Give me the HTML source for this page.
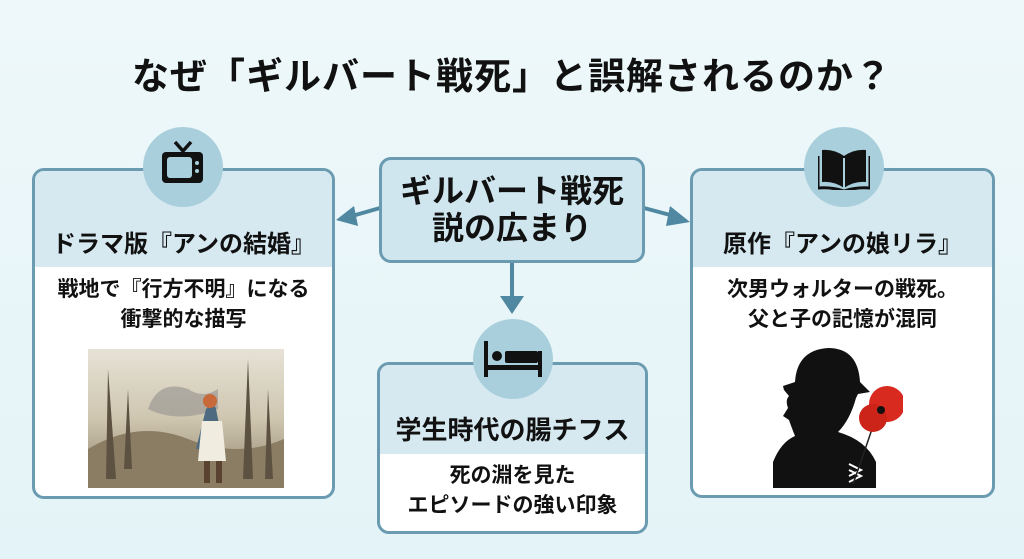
<!DOCTYPE html>
<html><head><meta charset="utf-8"><style>
*{margin:0;padding:0;box-sizing:border-box}
body{width:1024px;height:559px;overflow:hidden;background:linear-gradient(180deg,#eef8fa,#e4f3f7);font-family:"Liberation Sans","Noto Sans CJK JP",sans-serif;position:relative;color:#111}
.a{position:absolute}
.title{left:0;width:1024px;top:46px;text-align:center;font-size:37px;font-weight:bold;letter-spacing:1px}
.box{position:absolute;border:3px solid #6a9bb0;border-radius:12px;background:#fff;overflow:hidden}
.hd{background:#d6e9f0;font-weight:bold;text-align:center;position:absolute;left:0;right:0;top:0;white-space:nowrap}
.tx{position:absolute;left:0;right:0;text-align:center;font-weight:bold;font-size:21px;line-height:30px;white-space:nowrap}
.circ{position:absolute;width:80px;height:80px;border-radius:50%;background:#a9cfdd}
</style></head><body>
<div class="a title">なぜ「ギルバート戦死」と誤解されるのか？</div>

<svg class="a" style="left:0;top:0" width="1024" height="559">
<g stroke="#4f88a0" stroke-width="4" fill="#4f88a0">
<line x1="380" y1="208" x2="352" y2="216"/>
<polygon points="336,220 354,206 358,226" stroke="none"/>
<line x1="644" y1="208" x2="674" y2="216"/>
<polygon points="690,222 670,206 666,226" stroke="none"/>
<line x1="512" y1="262" x2="512" y2="298"/>
<polygon points="500,296 524,296 512,314" stroke="none"/>
</g>
</svg>

<!-- left box -->
<div class="box" style="left:32px;top:168px;width:303px;height:331px">
<div class="hd" style="height:96px;font-size:24px;padding-top:53px">ドラマ版『アンの結婚』</div>
<div class="tx" style="top:104px">戦地で『行方不明』になる<br>衝撃的な描写</div>
<svg class="a" style="left:53px;top:178px" width="196" height="139">
<defs><linearGradient id="g1" x1="0" y1="0" x2="0" y2="1"><stop offset="0" stop-color="#e6e2d6"/><stop offset="0.5" stop-color="#cfc6b0"/><stop offset="1" stop-color="#8f846b"/></linearGradient></defs>
<rect width="196" height="139" fill="url(#g1)"/>
<path d="M60 60 q10-30 40-20 q15 10 30 0 v20 q-40 15-70 0z" fill="#9d9a94" opacity=".7"/>
<path d="M0 100 q50-30 100-10 t96 0 v49 H0z" fill="#8a7d63"/>
<path d="M20 20 l8 110 h-10z M40 40 l-4 80 h8z M160 10 l5 120 h-10z M180 40 l-3 90 h8z" fill="#5d5242"/>
<path d="M118 60 q8-8 10 0 l8 40 h-28z" fill="#4d6a80"/>
<path d="M114 72 h20 l4 40 h-28z" fill="#f0ece0"/>
<circle cx="122" cy="52" r="7" fill="#c8693a"/>
<path d="M116 112 h6 v22 h-6z M128 112 h6 v22 h-6z" fill="#5a4230"/>
</svg>
</div>
<div class="circ" style="left:143px;top:127px"></div>
<svg class="a" style="left:158px;top:139px" width="50" height="50">
<path d="M17 3 L25 12 L33 3" stroke="#111" stroke-width="3.5" fill="none"/>
<rect x="4" y="13" width="41" height="31" rx="4" fill="#111"/>
<rect x="9" y="18" width="25" height="21" rx="3" fill="#a9cfdd"/>
<circle cx="39" cy="24" r="2" fill="#a9cfdd"/><circle cx="39" cy="32" r="2" fill="#a9cfdd"/>
</svg>

<!-- center box -->
<div class="a" style="left:379px;top:157px;width:266px;height:106px;border:3px solid #6a9bb0;border-radius:12px;background:#cfe6ee;text-align:center;font-weight:bold;font-size:32px;line-height:37px;padding-top:13px;white-space:nowrap">ギルバート戦死<br>説の広まり</div>

<!-- bottom box -->
<div class="box" style="left:377px;top:362px;width:271px;height:172px">
<div class="hd" style="height:89px;font-size:26px;padding-top:45px">学生時代の腸チフス</div>
<div class="tx" style="top:96px;font-size:21px">死の淵を見た<br>エピソードの強い印象</div>
</div>
<div class="circ" style="left:473px;top:319px"></div>
<svg class="a" style="left:484px;top:339px" width="58" height="40">
<rect x="0" y="2" width="4" height="36" fill="#111"/><rect x="54" y="12" width="4" height="26" fill="#111"/>
<rect x="0" y="26" width="58" height="5" fill="#111"/>
<circle cx="13" cy="17" r="5" fill="#111"/>
<rect x="21" y="12" width="33" height="12" rx="2" fill="#111"/>
</svg>

<!-- right box -->
<div class="box" style="left:690px;top:168px;width:305px;height:330px">
<div class="hd" style="height:96px;font-size:24px;padding-top:53px">原作『アンの娘リラ』</div>
<div class="tx" style="top:104px">次男ウォルターの戦死。<br>父と子の記憶が混同</div>
<svg class="a" style="left:80px;top:175px" width="130" height="142">
<path d="M10 40 l12-4 q2-32 33-34 q30 0 32 34 l10 10 l-12 2 l-2 4 q-6 22 -18 34 q28 8 38 30 v30 H0 v-30 q8-20 22-26 q-4-10 -6-16 l-6-4 l5-8 q-3-8 1-12 l-5-6z" fill="#111"/>
<path d="M76 118 l12 6 l-12 6 M76 124 l12 6 l-12 6" stroke="#fff" stroke-width="2" fill="none"/>
<path d="M100 80 q-10 30 -20 58" stroke="#222" stroke-width="1.5" fill="none"/>
<circle cx="114" cy="58" r="18" fill="#d82a1e"/>
<circle cx="100" cy="72" r="14" fill="#cc2418"/>
<circle cx="108" cy="64" r="4" fill="#111"/>
</svg>
</div>
<div class="circ" style="left:804px;top:127px"></div>
<svg class="a" style="left:818px;top:148px" width="52" height="42">
<path d="M26 8 q-10-7 -22-6 v32 q12-1 22 6z M26 8 q10-7 22-6 v32 q-12-1 -22 6z" fill="#111"/>
<path d="M0 8 v32 q14-1 26 3 q12-4 26-3 v-32" stroke="#111" stroke-width="3" fill="none"/>
<path d="M26 10 v30" stroke="#a9cfdd" stroke-width="2"/>
</svg>
</body></html>
